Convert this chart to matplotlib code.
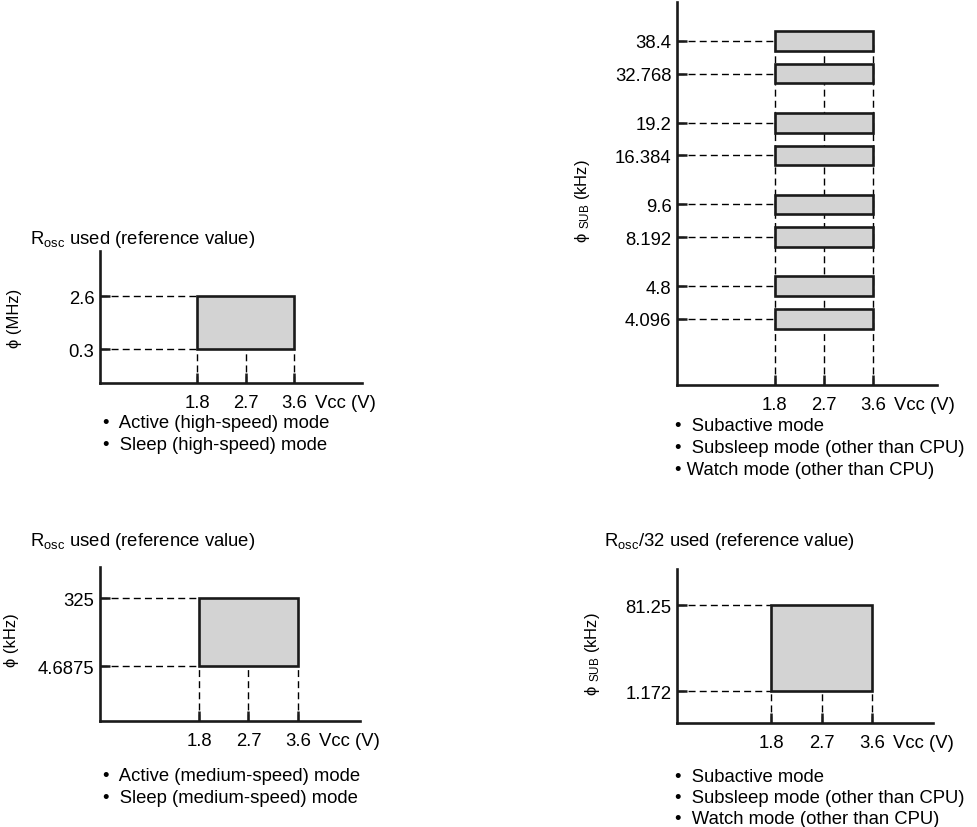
import matplotlib
matplotlib.use('Agg')
import matplotlib.pyplot as plt

plt.rcParams['font.family'] = ['Liberation Sans', 'DejaVu Sans']
plt.rcParams['mathtext.fontset'] = 'custom'
plt.rcParams['mathtext.rm'] = 'Liberation Sans'
plt.rcParams['mathtext.it'] = 'Liberation Sans:italic'
plt.rcParams['mathtext.bf'] = 'Liberation Sans:bold'

# --- data ---------------------------------------------------------------
vcc_ticks = [1.8, 2.7, 3.6]
vcc_min = 1.8
vcc_max = 3.6

high_speed_mhz = [0.3, 2.6]
medium_speed_khz = [4.6875, 325]
sub_clock_khz = [4.096, 4.8, 8.192, 9.6, 16.384, 19.2, 32.768, 38.4]
rosc32_khz = [1.172, 81.25]

high_speed_modes = ['Active (high-speed) mode', 'Sleep (high-speed) mode']
medium_speed_modes = ['Active (medium-speed) mode', 'Sleep (medium-speed) mode']
sub_modes = ['Subactive mode', 'Subsleep mode (other than CPU)',
             'Watch mode (other than CPU)']

W, H = 978, 828
GRAY = '#d3d3d3'
EDGE = '#1a1a1a'
FS = 13.3


def px_axes(fig, left, top, right, bottom):
    """Axes placed from pixel coordinates of the reference picture"""
    return fig.add_axes([left / W, 1 - bottom / H,
                         (right - left) / W, (bottom - top) / H])


def px_text(fig, x, y, s, **kw):
    fig.text(x / W, 1 - y / H, s, **kw)


def style_axes(ax, xlim, ylim, ypos, values):
    ax.set_xlim(*xlim)
    ax.set_ylim(*ylim)
    for side in ('top', 'right'):
        ax.spines[side].set_visible(False)
    for side in ('left', 'bottom'):
        ax.spines[side].set_linewidth(1.9)
        ax.spines[side].set_color(EDGE)
    ax.set_xticks(vcc_ticks, [f'{v:g}' for v in vcc_ticks])
    ax.set_yticks(ypos, [f'{v:g}' for v in values])
    ax.tick_params(axis='both', direction='in', length=7, width=1.8,
                   labelsize=FS, color=EDGE)
    ax.tick_params(axis='x', pad=8)
    ax.tick_params(axis='y', pad=4)
    ax.patch.set_visible(False)
    # axis name sits on the same baseline as the voltage tick labels
    ax.annotate('Vcc (V)', xy=(3.6, 0), xycoords=('data', 'axes fraction'),
                xytext=(15, -17.5), textcoords='offset points',
                ha='left', va='baseline', fontsize=FS)


def guide_lines(ax, ypos, ylim, top):
    # horizontal dashed lines from the axis to the range start
    ax.hlines(ypos, ax.get_xlim()[0], vcc_min, colors='black',
              linestyles=(0, (5, 3)), linewidth=1.0, zorder=1)
    # vertical dashed lines down to the voltage axis
    ax.vlines(vcc_ticks, ylim[0], top, colors='black',
              linestyles=(0, (5, 3)), linewidth=1.0, zorder=1)


def range_box(ax, ypos):
    ax.bar(vcc_min, ypos[1] - ypos[0], width=vcc_max - vcc_min,
           bottom=ypos[0], align='edge', facecolor=GRAY,
           edgecolor=EDGE, linewidth=1.9, zorder=2)


def bullets(fig, x, y, items, step=22, tight_last=False):
    for i, s in enumerate(items):
        gap = ' ' if (tight_last and i == len(items) - 1) else '  '
        px_text(fig, x, y + i * step, '\u2022' + gap + s,
                ha='left', va='center', fontsize=FS)


fig = plt.figure(figsize=(W / 100, H / 100), dpi=100)

# --- top left: high-speed -----------------------------------------------
ax1 = px_axes(fig, 100, 252, 362, 384)
pos1 = list(range(len(high_speed_mhz)))
ylim1 = (-0.64, 1.85)
style_axes(ax1, (0, 4.85), ylim1, pos1, high_speed_mhz)
guide_lines(ax1, pos1, ylim1, pos1[0])
range_box(ax1, pos1)
px_text(fig, 30, 240, r'R$_{\mathrm{osc}}$ used (reference value)',
        ha='left', va='center', fontsize=FS)
px_text(fig, 15, 318, '\u03d5 (MHz)', rotation=90, ha='center',
        va='center', fontsize=12)
bullets(fig, 103, 423, high_speed_modes)

# --- bottom left: medium-speed ------------------------------------------
ax2 = px_axes(fig, 100, 568, 360, 722)
pos2 = list(range(len(medium_speed_khz)))
ylim2 = (-0.81, 1.46)
style_axes(ax2, (0, 4.73), ylim2, pos2, medium_speed_khz)
guide_lines(ax2, pos2, ylim2, pos2[0])
range_box(ax2, pos2)
px_text(fig, 30, 542, r'R$_{\mathrm{osc}}$ used (reference value)',
        ha='left', va='center', fontsize=FS)
px_text(fig, 12, 640, '\u03d5 (kHz)', rotation=90, ha='center',
        va='center', fontsize=12)
bullets(fig, 103, 777, medium_speed_modes)

# --- top right: subclock ------------------------------------------------
ax3 = px_axes(fig, 677, 3, 937, 386)
# values come in pairs, pairs drawn with a wider gap
pos3 = [i + 0.5 * (i // 2) for i in range(len(sub_clock_khz))]
ylim3 = (-2.02, 9.69)
style_axes(ax3, (0, 4.78), ylim3, pos3, sub_clock_khz)
guide_lines(ax3, pos3, ylim3, pos3[-1])
ax3.barh(pos3, vcc_max - vcc_min, left=vcc_min, height=0.6,
         facecolor=GRAY, edgecolor=EDGE, linewidth=1.9, zorder=2)
px_text(fig, 583, 201, '\u03d5 $_{\\mathrm{SUB}}$ (kHz)', rotation=90,
        ha='center', va='center', fontsize=12)
bullets(fig, 675, 427, sub_modes, tight_last=True)

# --- bottom right: Rosc/32 ----------------------------------------------
ax4 = px_axes(fig, 677, 570, 933, 724)
pos4 = list(range(len(rosc32_khz)))
ylim4 = (-0.37, 1.42)
style_axes(ax4, (0.12, 4.69), ylim4, pos4, rosc32_khz)
guide_lines(ax4, pos4, ylim4, pos4[0])
range_box(ax4, pos4)
px_text(fig, 604, 542, r'R$_{\mathrm{osc}}$/32 used (reference value)',
        ha='left', va='center', fontsize=FS)
px_text(fig, 593, 654, '\u03d5 $_{\\mathrm{SUB}}$ (kHz)', rotation=90,
        ha='center', va='center', fontsize=12)
bullets(fig, 675, 778, sub_modes, step=21)

fig.savefig('out.png', dpi=100, facecolor='white')
plt.close(fig)
